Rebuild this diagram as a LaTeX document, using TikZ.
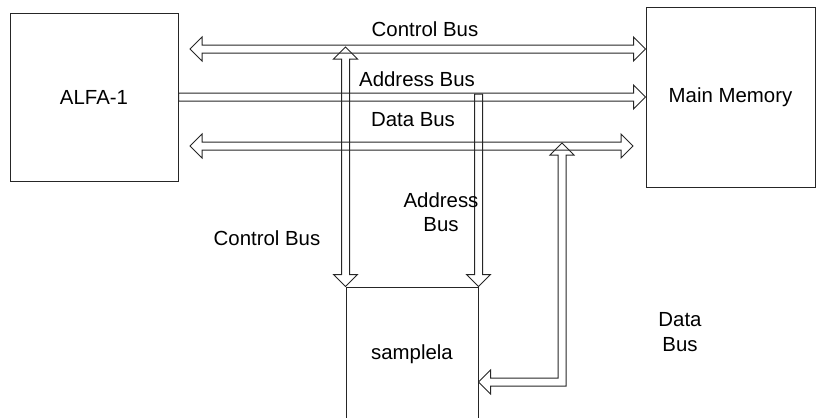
\documentclass[tikz,border=0pt]{standalone}
\usepackage{fontspec}
\setmainfont{Liberation Sans}
\usetikzlibrary{calc}

\begin{document}
\begin{tikzpicture}[x=0.5pt, y=-0.5pt, line width=0.5pt, draw=black!85,
  unit/.style={draw, minimum width=84pt, minimum height=84pt, font=\fontsize{10.2}{12}\selectfont},
  bus/.style={draw, line join=miter},
  lbl/.style={font=\fontsize{10.2}{12.2}\selectfont, align=center, inner sep=0pt}]

\useasboundingbox (0,0) rectangle (816,418);
\clip (0,0) rectangle (816,418);

% Units
\node[unit] (alfa) at (94,97) {ALFA-1};
\node[unit, minimum width=84.5pt, minimum height=90pt] (mem) at (730.5,97) {Main Memory};
\node[unit, minimum width=66pt, minimum height=67pt] (samp) at (412,354) {samplela};

% Bus end points
\coordinate (cbL) at (190,49);
\coordinate (cbR) at (mem.west |- cbL);
\coordinate (abL) at (alfa.east);
\coordinate (abR) at (mem.west);
\coordinate (dbL) at (190,146);
\coordinate (dbR) at (633,146);
\coordinate (cvT) at (samp.north west |- 0,47);
\coordinate (cvB) at (samp.north west);
\coordinate (avT) at (samp.north east |- 0,94);
\coordinate (avB) at (samp.north east);
\coordinate (dvT) at (562,143);
\coordinate (dvC) at (562,382);
\coordinate (dvE) at (samp.east |- dvC);

% Control bus (both ways)
\draw[bus] (cbL) -- ++(12,-12) -- ++(0,8) -- ($(cbR)+(-12,-4)$) -- ++(0,-8) -- (cbR)
  -- ++(-12,12) -- ++(0,-8) -- ($(cbL)+(12,4)$) -- ++(0,8) -- cycle;

% Address bus (to memory)
\draw[bus] ($(abL)+(0,-4)$) -- ($(abR)+(-12,-4)$) -- ++(0,-8) -- (abR)
  -- ++(-12,12) -- ++(0,-8) -- ($(abL)+(0,4)$) -- cycle;

% Data bus (both ways)
\draw[bus] (dbL) -- ++(12,-12) -- ++(0,8) -- ($(dbR)+(-12,-4)$) -- ++(0,-8) -- (dbR)
  -- ++(-12,12) -- ++(0,-8) -- ($(dbL)+(12,4)$) -- ++(0,8) -- cycle;

% Control bus down to samplela
\draw[bus] (cvT) -- ++(12,12) -- ++(-8,0) -- ($(cvB)+(4,-12)$) -- ++(8,0) -- (cvB)
  -- ++(-12,-12) -- ++(8,0) -- ($(cvT)+(-4,12)$) -- ++(-8,0) -- cycle;

% Address bus down to samplela
\draw[bus] ($(avT)+(4,0)$) -- ($(avB)+(4,-12)$) -- ++(8,0) -- (avB)
  -- ++(-12,-12) -- ++(8,0) -- ($(avT)+(-4,0)$) -- cycle;

% Data bus round to samplela
\draw[bus] (dvT) -- ++(12,12) -- ++(-8,0) -- ($(dvC)+(4,4)$) -- ($(dvE)+(12,4)$) -- ++(0,8)
  -- (dvE) -- ++(12,-12) -- ++(0,8) -- ($(dvC)+(-4,-4)$) -- ($(dvT)+(-4,12)$) -- ++(-8,0) -- cycle;

% Labels
\node[lbl] (cbtxt) at (425,29) {Control Bus};
\node[lbl] (abtxt) at (417,79) {Address Bus};
\node[lbl] (dbtxt) at (413,120) {Data Bus};
\node[lbl] (avtxt) at (441,212) {Address\\Bus};
\node[lbl] (cvtxt) at (267,238.5) {Control Bus};
\node[lbl] (dvtxt) at (680,332) {Data\\Bus};

\end{tikzpicture}
\end{document}
